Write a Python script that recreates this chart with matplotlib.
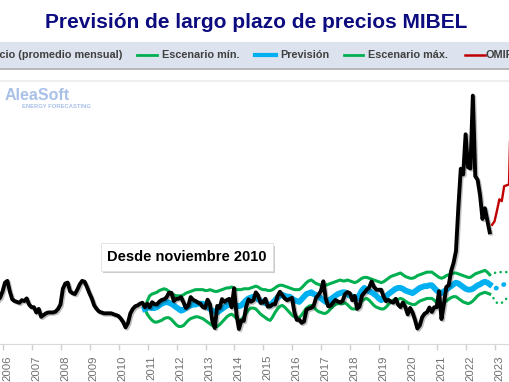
import numpy as np
import matplotlib.pyplot as plt
import matplotlib.patheffects as pe
from matplotlib.patches import Rectangle
from matplotlib.lines import Line2D

plt.rcParams['font.family'] = ['Liberation Sans', 'DejaVu Sans']

# precio mensual MIBEL (EUR/MWh), desde octubre 2005 hasta octubre 2022
precio_inicio = 2005 + 9 / 12
precio = [
    50, 53, 60,
    70, 72, 60, 51, 49, 48, 47, 50, 49, 52, 45, 42,
    42, 36, 40, 31, 33, 35, 36, 36, 36, 37, 40, 45,
    63, 69, 70, 60, 58, 57, 62, 68, 72, 71, 65, 58,
    52, 44, 40, 37, 36, 35, 35, 35, 35, 34, 33, 32,
    29, 25, 19, 24, 35, 40, 43, 44, 46, 47, 42, 46,
    41.9, 47.7, 45.5, 45.2, 48.3, 50.3, 51.0, 53.3, 58.4, 58.4, 49.0, 51.4,
    51.6, 53.5, 47.6, 41.1, 43.5, 53.5, 50.3, 49.1, 47.3, 46.1, 42.2, 41.1,
    50.5, 45.0, 25.9, 18.2, 43.4, 41.1, 51.2, 48.1, 50.2, 51.5, 41.8, 63.6,
    33.6, 17.1, 26.7, 26.4, 42.4, 50.9, 48.2, 49.9, 58.9, 55.1, 46.8, 47.5,
    51.6, 42.6, 43.1, 45.3, 45.1, 54.7, 59.6, 55.6, 51.9, 49.9, 51.2, 52.6,
    36.5, 27.5, 27.8, 24.1, 25.8, 38.9, 40.5, 41.2, 43.6, 52.8, 56.1, 60.5,
    71.5, 51.7, 43.2, 43.7, 47.1, 50.2, 48.6, 47.5, 49.2, 56.8, 59.2, 57.9,
    49.9, 54.9, 40.2, 42.7, 54.9, 58.5, 61.9, 64.3, 71.3, 65.1, 61.9, 61.8,
    61.9, 54.0, 48.8, 50.4, 48.4, 47.2, 51.5, 44.9, 42.1, 47.2, 42.2, 33.8,
    41.1, 35.9, 27.7, 17.7, 21.3, 30.6, 34.6, 36.2, 41.6, 36.6, 41.9, 41.9,
    60.2, 28.5, 45.4, 65.0, 67.1, 83.3, 92.4, 105.9, 156.1, 199.9, 193.4, 239.2,
    201.7, 200.2, 283.3, 191.5, 187.1, 169.6, 142.7, 154.9, 141.1, 127.4,
]

# previsión desde noviembre 2010 hasta julio 2023 (punteada desde octubre 2022)
prev_inicio = 2010 + 10 / 12
n_solido = 144
prevision = [
    40, 41,
    42, 41, 41, 42, 44, 46, 47, 48, 47, 46, 44, 42,
    40, 38, 39, 41, 43, 44, 45, 45, 46, 46, 46, 45,
    43, 40, 38, 37, 36, 38, 40, 42, 44, 45, 46, 45,
    44, 43, 44, 47, 50, 52, 53, 54, 54, 51, 49, 48,
    47, 45, 44, 47, 50, 53, 55, 56, 55, 54, 54, 52,
    50, 49, 48, 51, 54, 57, 58, 59, 57, 56, 55, 52,
    50, 48, 49, 51, 53, 55, 57, 58, 59, 59, 57, 55,
    54, 53, 52, 56, 61, 64, 62, 60, 59, 57, 55, 52,
    50, 52, 54, 57, 59, 61, 63, 64, 64, 63, 61, 60,
    59, 58, 60, 62, 64, 65, 66, 66, 67, 67, 64, 61,
    59, 58, 60, 62, 64, 66, 68, 70, 69, 67, 65, 63,
    62, 62, 63, 65, 67, 68, 70, 71, 70, 68, 64, 63,
    64, 65, 67, 68, 68, 68, 68,
]
esc_max = [
    40, 49,
    55, 57, 58, 59, 61, 62, 63, 62, 60, 58, 56, 55,
    55, 55, 56, 58, 59, 60, 61, 62, 62, 62, 62, 61,
    61, 62, 61, 60, 60, 61, 62, 63, 64, 64, 65, 64,
    62, 62, 62, 63, 63, 63, 64, 65, 66, 65, 63, 62,
    62, 61, 61, 62, 64, 66, 67, 67, 66, 65, 64, 63,
    62, 62, 62, 64, 67, 70, 72, 73, 71, 69, 68, 67,
    67, 67, 68, 69, 70, 71, 72, 73, 72, 72, 73, 72,
    71, 70, 71, 73, 75, 76, 76, 75, 74, 73, 72, 71,
    70, 71, 73, 75, 77, 78, 79, 80, 81, 79, 77, 76,
    75, 75, 76, 78, 79, 80, 81, 82, 82, 82, 80, 78,
    76, 75, 76, 78, 79, 80, 81, 81, 80, 79, 78, 77,
    76, 76, 78, 80, 81, 82, 83, 84, 82, 79, 80, 81,
    82, 82, 82, 82, 82, 82, 82,
]
esc_min = [
    40, 34,
    30, 27, 25, 25, 26, 27, 29, 30, 30, 28, 25, 22,
    20, 20, 21, 24, 27, 29, 30, 31, 31, 30, 29, 27,
    25, 23, 21, 20, 20, 22, 25, 28, 31, 33, 34, 32,
    29, 27, 28, 31, 35, 39, 41, 41, 40, 37, 34, 32,
    30, 28, 27, 31, 36, 40, 43, 44, 42, 39, 36, 33,
    31, 30, 30, 33, 37, 41, 43, 44, 42, 39, 37, 36,
    35, 35, 37, 40, 43, 45, 46, 46, 46, 47, 45, 42,
    40, 40, 40, 44, 49, 51, 52, 50, 47, 44, 42, 41,
    40, 40, 42, 45, 48, 50, 51, 51, 52, 51, 49, 47,
    46, 45, 45, 47, 49, 50, 51, 52, 52, 52, 50, 47,
    45, 45, 47, 49, 51, 53, 54, 54, 52, 50, 48, 47,
    46, 47, 49, 52, 55, 57, 58, 59, 58, 57, 55, 50,
    47, 46, 47, 49, 52, 54, 55,
]

# futuros OMIP desde noviembre 2022
omip_inicio = 2022 + 10 / 12
omip = [136, 140, 152, 165, 163, 180, 181, 182, 300]

anios = list(range(2006, 2024))

VERDE = '#00b050'
AZUL = '#00b0f0'
ROJO = '#c00000'


def meses(inicio, n):
    return inicio + np.arange(n) / 12


W, H = 510, 382
fig = plt.figure(figsize=(W / 100, H / 100), dpi=100)
ax = fig.add_axes([0, (H - 344) / H, 1, (344 - 81) / H])
ax.set_xlim(2005.828, 2023.451)
ax.set_ylim(0, 300)

t_prev = meses(prev_inicio, len(prevision))
s = n_solido
for serie, color, lw in [(esc_max, VERDE, 2.2), (esc_min, VERDE, 2.2), (prevision, AZUL, 4.2)]:
    y = np.array(serie)
    ax.plot(t_prev[:s], y[:s], color=color, lw=lw, solid_joinstyle='round', zorder=3)
    patron = (0, (0.1, 2.2)) if color == VERDE else (0, (0.1, 1.7))
    ax.plot(t_prev[s - 1:], y[s - 1:], color=color, lw=lw * 0.8, linestyle=patron,
            dash_capstyle='round', zorder=3)

ax.plot(meses(precio_inicio, len(precio)), precio, color='black', lw=2.8,
        solid_joinstyle='round', zorder=4,
        path_effects=[pe.SimpleLineShadow(offset=(1, -1), alpha=0.25), pe.Normal()])
ax.plot(meses(omip_inicio, len(omip)), omip, color=ROJO, lw=1.7, zorder=5)

ax.set_yticks([])
ax.set_xticks([a + 0.07 for a in anios])
ax.set_xticklabels([str(a) for a in anios], rotation=90, fontsize=8.2, color='#707070')
ax.tick_params(axis='x', which='major', length=0, pad=8)
ax.set_xticks([a - 0.07 for a in anios], minor=True)
ax.tick_params(axis='x', which='minor', length=4, color='#d0d0d0', width=1)
for lado in ['left', 'right']:
    ax.spines[lado].set_visible(False)
ax.spines['bottom'].set_color('#d9d9d9')
ax.spines['top'].set_color('#eeeeee')
ax.spines['top'].set_linewidth(1.5)

# título
fig.text(256 / W, 1 - 22 / H, 'Previsión de largo plazo de precios MIBEL',
         ha='center', va='center', fontsize=15, fontweight='bold', color='#0c0c80')

# banda de leyenda
banda = Rectangle((0, 1 - 68 / H), 1, 26 / H, transform=fig.transFigure,
                  facecolor='#dce3ee', edgecolor='none', zorder=1)
banda.set_path_effects([pe.withSimplePatchShadow(offset=(0, -1.5), shadow_rgbFace='#888888', alpha=0.6)])
fig.patches.append(banda)

y_ley = 1 - 55 / H
fig.text(122 / W, y_ley, 'Precio (promedio mensual)', ha='right', va='center',
         fontsize=7.8, fontweight='bold', color='#404040')
entradas = [(137, 157, 162, VERDE, 2.0, 'Escenario mín.'),
            (255, 276, 280, AZUL, 3.0, 'Previsión'),
            (344, 363, 368, VERDE, 2.0, 'Escenario máx.'),
            (465, 485, 486, ROJO, 1.8, 'OMIP')]
for x0, x1, xt, color, lw, nombre in entradas:
    fig.add_artist(Line2D([x0 / W, x1 / W], [y_ley, y_ley], color=color, lw=lw,
                          transform=fig.transFigure))
    fig.text(xt / W, y_ley, nombre, ha='left', va='center', fontsize=7.8,
             fontweight='bold', color='#404040')

# marca de agua
fig.text(5 / W, 1 - 96 / H, 'AleaSoft', ha='left', va='center', fontsize=11.5,
         fontweight='bold', color='#a9c0e8')
fig.text(22 / W, 1 - 106 / H, 'ENERGY FORECASTING', ha='left', va='center', fontsize=4.2,
         fontweight='bold', color='#a9c0e8')

# anotación
nota = fig.text(187 / W, 1 - 257 / H, 'Desde noviembre 2010', ha='center', va='center',
                fontsize=10.5, fontweight='bold', color='black',
                bbox=dict(boxstyle='square,pad=0.45', facecolor='white', edgecolor='#e0e0e0', lw=0.6))
nota.get_bbox_patch().set_path_effects([pe.withSimplePatchShadow(offset=(1.5, -1.5),
                                                                 shadow_rgbFace='#999999', alpha=0.5)])

fig.savefig('out.png', dpi=100)
